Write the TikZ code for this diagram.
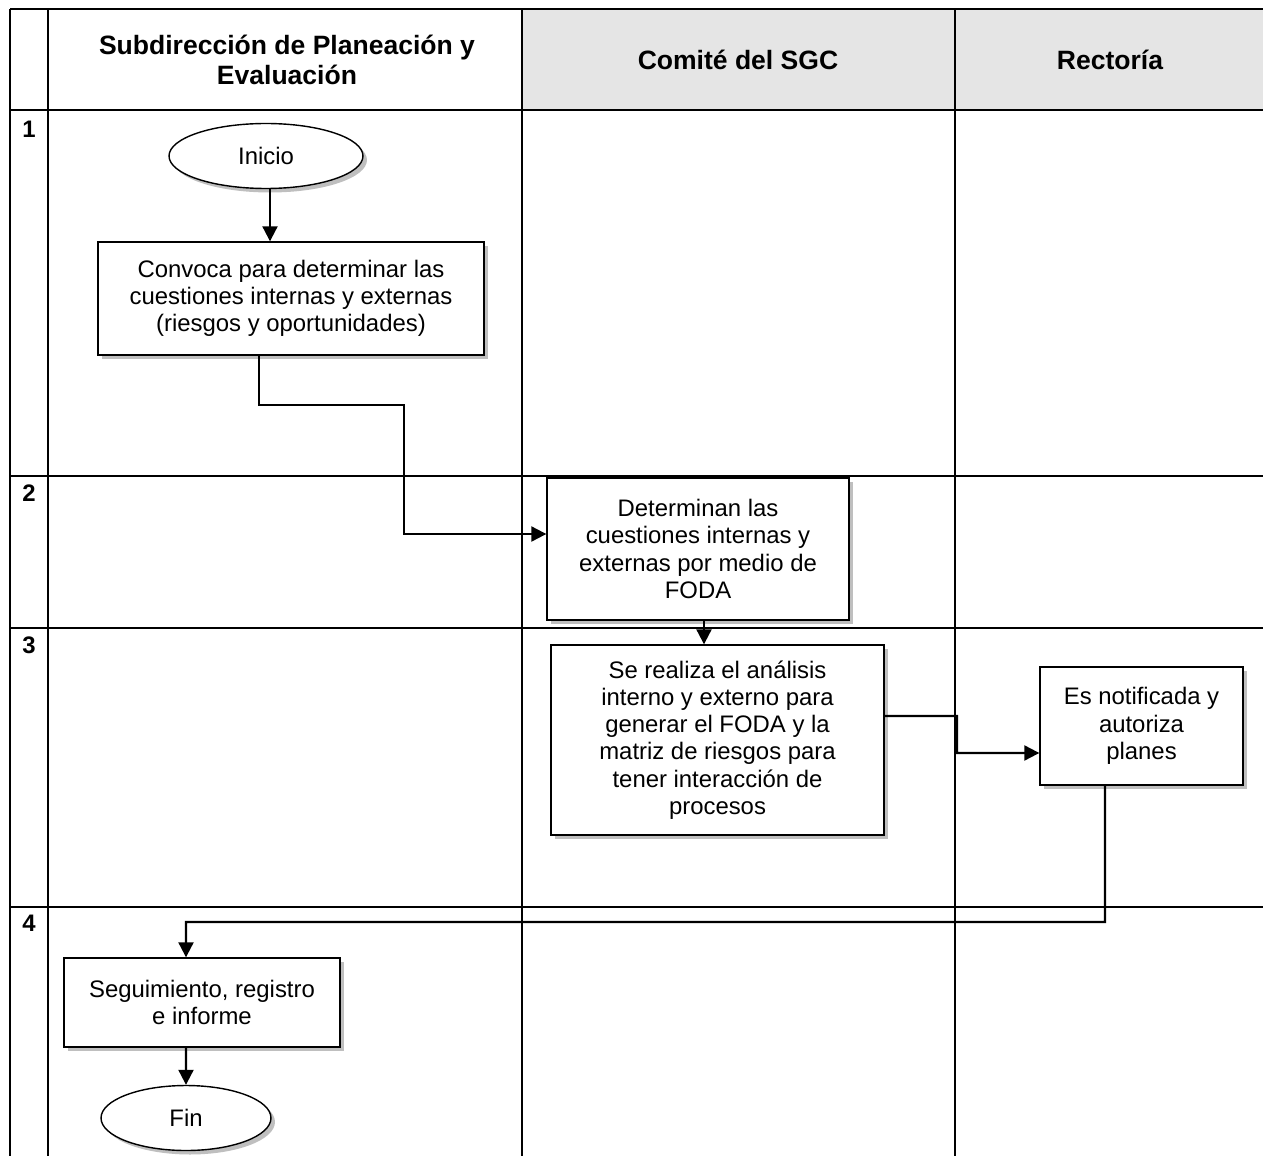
\documentclass[tikz,border=0pt]{standalone}
\usepackage{fontspec}
\setmainfont{Liberation Sans}
\usetikzlibrary{arrows.meta,shapes.geometric,shadows}
\begin{document}
\begin{tikzpicture}[x=0.02cm,y=-0.02cm,
  grid/.style={line width=1.2pt,black},
  shd/.style={drop shadow={shadow xshift=0.08cm,shadow yshift=-0.08cm,fill=black!25,opacity=1}},
  proc/.style={draw,line width=0.8pt,fill=white,shd,align=center,inner sep=2pt,
     font=\fontsize{13.6}{15.5}\selectfont},
  term/.style={ellipse,draw,line width=0.8pt,fill=white,shd,inner sep=0pt,
     font=\fontsize{13.6}{15.5}\selectfont},
  hdr/.style={align=center,font=\bfseries\fontsize{15.1}{17}\selectfont},
  rownum/.style={anchor=north west,inner sep=0pt,font=\bfseries\fontsize{13.6}{15}\selectfont},
  arr/.style={line width=1.2pt,-{Triangle[length=0.3cm,width=0.3cm]}}]
\useasboundingbox (0,0) rectangle (1263,1155);
\clip (0,0) rectangle (1263,1155);
% header fill
\fill[black!10] (522,9) rectangle (1263,110);
% grid
\draw[grid] (10,9) -- (1263,9);
\foreach \yy in {110,476,628,907} \draw[grid] (10,\yy) -- (1263,\yy);
\foreach \xx in {10,48,522,955} \draw[grid] (\xx,9) -- (\xx,1160);
% headers
\node[hdr] (h1) at (287,60) {Subdirección de Planeación y\\Evaluación};
\node[hdr] (h2) at (738,60) {Comité del SGC};
\node[hdr] (h3) at (1110,60) {Rectoría};
% row numbers
\node[rownum] (r1) at (22,121) {1};
\node[rownum] (r2) at (22,484) {2};
\node[rownum] (r3) at (22,636) {3};
\node[rownum] (r4) at (22,915) {4};
% shapes
\node[term,minimum width=3.88cm,minimum height=1.3cm] (inicio) at (266,156) {Inicio};
\node[proc,minimum width=7.72cm,minimum height=2.26cm] (convoca) at (291,298.5)
  {Convoca para determinar las\\cuestiones internas y externas\\(riesgos y oportunidades)};
\node[proc,minimum width=6.04cm,minimum height=2.84cm] (determinan) at (698,549)
  {Determinan las\\cuestiones internas y\\externas por medio de\\FODA};
\node[proc,minimum width=6.66cm,minimum height=3.8cm] (realiza) at (717.5,740)
  {Se realiza el análisis\\interno y externo para\\generar el FODA y la\\matriz de riesgos para\\tener interacción de\\procesos};
\node[proc,minimum width=4.06cm,minimum height=2.36cm] (notif) at (1141.5,726)
  {Es notificada y\\autoriza\\planes};
\node[proc,minimum width=5.52cm,minimum height=1.78cm] (seguim) at (202,1002.5)
  {Seguimiento, registro\\e informe};
\node[term,minimum width=3.4cm,minimum height=1.3cm] (fin) at (186,1118) {Fin};
% connectors
\draw[arr] ([xshift=0.08cm]inicio.south) -- ([xshift=0.08cm]inicio.south |- convoca.north);
\draw[arr] ([xshift=-0.64cm]convoca.south) |- (404,405) |- ([yshift=0.3cm]determinan.west);
\draw[arr] ([xshift=0.12cm]determinan.south) -- ([xshift=0.12cm]determinan.south |- realiza.north);
\draw[arr] ([yshift=0.48cm]realiza.east) -| (957,753) -- ([yshift=-0.54cm]notif.west);
\draw[arr] ([xshift=-0.73cm]notif.south) |- (186,922) -- ([xshift=-0.32cm]seguim.north);
\draw[arr] ([xshift=-0.32cm]seguim.south) -- (fin.north);
\end{tikzpicture}
\end{document}
